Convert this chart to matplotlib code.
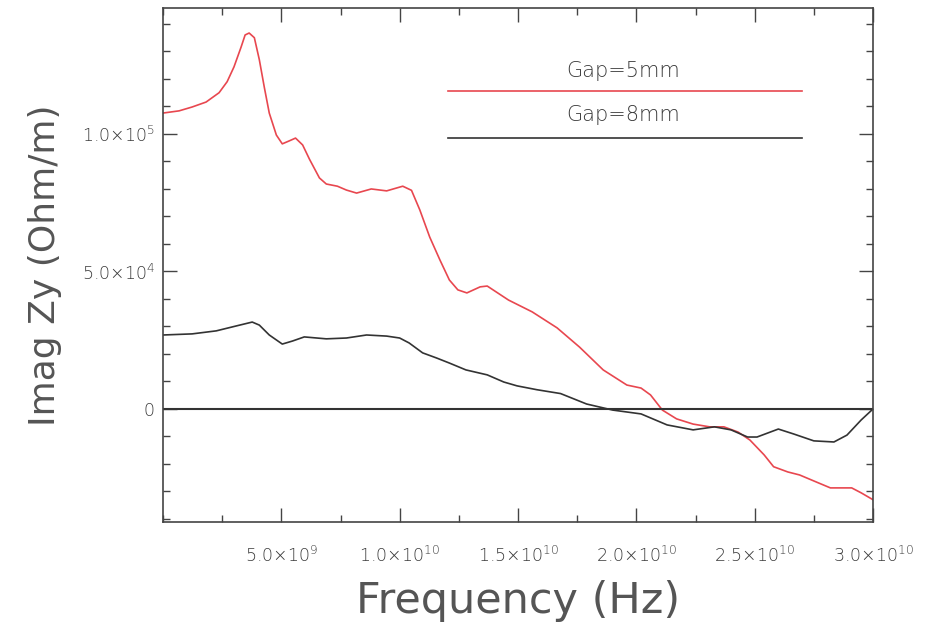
import matplotlib
matplotlib.use("Agg")
import matplotlib.pyplot as plt
from matplotlib.ticker import MultipleLocator, FixedLocator

# Frequency (Hz) and Imag Zy (Ohm/m)
freq_5mm = [0.0, 0.68e9, 1.23e9, 1.82e9, 2.37e9, 2.71e9, 3.0e9, 3.3e9, 3.47e9, 3.64e9, 3.86e9,
            4.07e9, 4.28e9, 4.49e9, 4.79e9, 5.04e9, 5.34e9, 5.6e9, 5.9e9, 6.19e9, 6.61e9,
            6.9e9, 7.37e9, 7.75e9, 8.18e9, 8.8e9, 9.45e9, 10.13e9, 10.5e9, 10.85e9, 11.27e9,
            11.7e9, 12.1e9, 12.46e9, 12.84e9, 13.4e9, 13.7e9, 14.6e9, 15.6e9, 16.65e9,
            17.6e9, 18.6e9, 19.6e9, 20.2e9, 20.6e9, 21.1e9, 21.7e9, 22.4e9, 23.1e9, 23.7e9,
            24.3e9, 24.8e9, 25.4e9, 25.8e9, 26.4e9, 26.9e9, 27.7e9, 28.2e9, 29.1e9, 29.5e9,
            30.0e9]
imag_5mm = [1.076e5, 1.084e5, 1.098e5, 1.116e5, 1.15e5, 1.19e5, 1.244e5, 1.316e5, 1.36e5,
            1.367e5, 1.35e5, 1.27e5, 1.17e5, 1.076e5, 0.996e5, 0.964e5, 0.975e5, 0.985e5,
            0.96e5, 0.908e5, 0.84e5, 0.818e5, 0.81e5, 0.796e5, 0.785e5, 0.80e5, 0.793e5,
            0.81e5, 0.795e5, 0.724e5, 0.625e5, 0.542e5, 0.469e5, 0.433e5, 0.422e5, 0.444e5,
            0.447e5, 0.396e5, 0.353e5, 0.295e5, 0.225e5, 0.142e5, 0.087e5, 0.076e5, 0.051e5,
            -0.004e5, -0.036e5, -0.055e5, -0.065e5, -0.065e5, -0.084e5, -0.113e5, -0.167e5,
            -0.21e5, -0.229e5, -0.24e5, -0.269e5, -0.287e5, -0.287e5, -0.305e5, -0.33e5]

freq_8mm = [0.0, 1.23e9, 2.25e9, 3.1e9, 3.77e9, 4.07e9, 4.49e9, 5.04e9, 5.47e9, 5.97e9, 6.9e9,
            7.75e9, 8.6e9, 9.45e9, 10.0e9, 10.4e9, 10.97e9, 11.57e9, 12.1e9, 12.8e9, 13.7e9,
            14.4e9, 14.96e9, 15.8e9, 16.8e9, 17.9e9, 19.0e9, 20.2e9, 21.3e9, 22.4e9, 23.3e9,
            24.0e9, 24.7e9, 25.1e9, 26.0e9, 26.65e9, 27.5e9, 28.35e9, 28.9e9, 29.5e9, 30.0e9]
imag_8mm = [2.69e4, 2.73e4, 2.84e4, 3.02e4, 3.16e4, 3.05e4, 2.69e4, 2.36e4, 2.47e4, 2.62e4,
            2.55e4, 2.58e4, 2.69e4, 2.65e4, 2.58e4, 2.4e4, 2.04e4, 1.85e4, 1.67e4, 1.42e4,
            1.24e4, 0.98e4, 0.84e4, 0.7e4, 0.56e4, 0.18e4, -0.04e4, -0.18e4, -0.58e4, -0.76e4,
            -0.65e4, -0.76e4, -1.02e4, -1.02e4, -0.73e4, -0.91e4, -1.16e4, -1.2e4, -0.95e4,
            -0.4e4, 0.0]

series_labels = ["Gap=5mm", "Gap=8mm"]
x_ticks = [5e9, 1e10, 1.5e10, 2e10, 2.5e10, 3e10]
x_tick_labels = [r"5.0$\times$10$^{9}$", r"1.0$\times$10$^{10}$", r"1.5$\times$10$^{10}$",
                 r"2.0$\times$10$^{10}$", r"2.5$\times$10$^{10}$", r"3.0$\times$10$^{10}$"]
y_ticks = [0, 5e4, 1e5]
y_tick_labels = ["0", r"5.0$\times$10$^{4}$", r"1.0$\times$10$^{5}$"]

TXT = "#555555"
TICKTXT = "#3a3a3a"
AX = "#444444"
RED = "#e8474f"
BLK = "#333333"

plt.rcParams["font.family"] = ["DejaVu Sans"]
plt.rcParams["font.weight"] = "light"

fig = plt.figure(figsize=(9.31, 6.31), dpi=100)
ax = fig.add_axes([163/931, 109/631, 710/931, 514/631])

ax.plot(freq_5mm, imag_5mm, color=RED, lw=1.2)
ax.plot(freq_8mm, imag_8mm, color=BLK, lw=1.2)
ax.axhline(0, color=BLK, lw=1.5)

ax.set_xlim(0, 3e10)
ax.set_ylim(-4.11e4, 1.458e5)

ax.xaxis.set_major_locator(FixedLocator(x_ticks))
ax.set_xticklabels(x_tick_labels)
ax.xaxis.set_minor_locator(MultipleLocator(2.5e9))
ax.yaxis.set_major_locator(FixedLocator(y_ticks))
ax.set_yticklabels(y_tick_labels)
ax.yaxis.set_minor_locator(MultipleLocator(1e4))

ax.tick_params(which="both", direction="in", top=True, right=True, color=AX,
               labelcolor=TICKTXT, labelsize=12.5)
ax.tick_params(which="major", length=10, width=1)
ax.tick_params(which="minor", length=5, width=1)
ax.tick_params(axis="x", pad=17)
ax.tick_params(axis="y", pad=6)
for s in ax.spines.values():
    s.set_color(AX)
    s.set_linewidth(1.2)

ax.set_xlabel("Frequency (Hz)", fontsize=31, color=TXT, labelpad=10)
ax.set_ylabel("Imag Zy (Ohm/m)", fontsize=26, color=TXT, labelpad=14)

# legend-like annotation
ax.text(0.648, 0.877, series_labels[0], transform=ax.transAxes, ha="center", va="center",
        fontsize=15, color=TICKTXT)
ax.plot([0.401, 0.900], [0.8385, 0.8385], transform=ax.transAxes, color=RED, lw=1.2)
ax.text(0.648, 0.792, series_labels[1], transform=ax.transAxes, ha="center", va="center",
        fontsize=15, color=TICKTXT)
ax.plot([0.401, 0.900], [0.747, 0.747], transform=ax.transAxes, color=BLK, lw=1.2)

fig.savefig("out.png", dpi=100)
